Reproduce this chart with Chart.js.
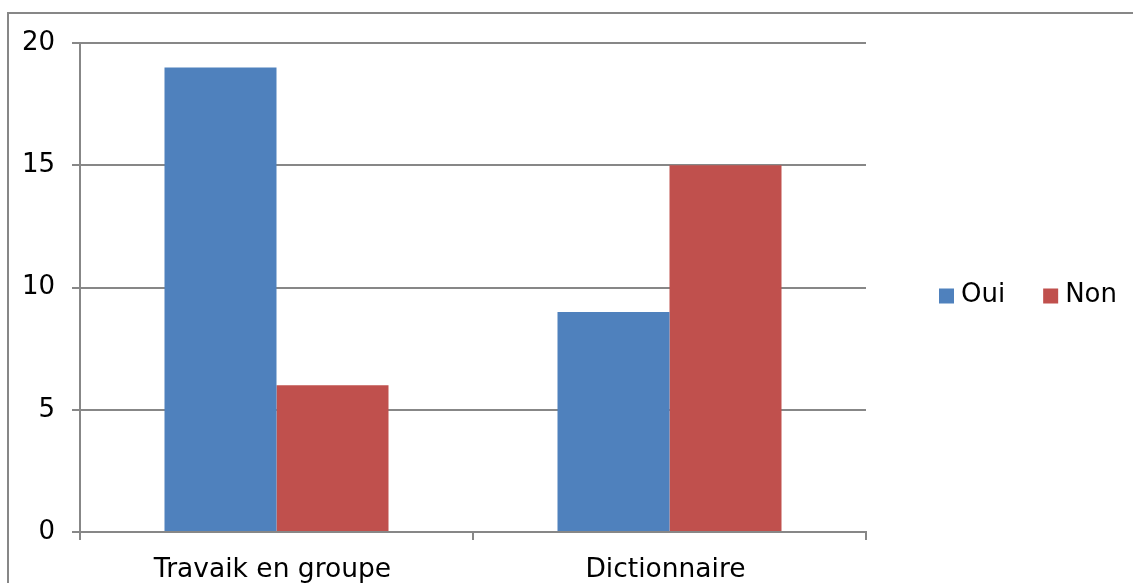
<!DOCTYPE html>
<html>
<head>
<meta charset="utf-8">
<script src="https://cdn.jsdelivr.net/npm/chart.js@4.4.0/dist/chart.umd.min.js"></script>
<style>
  html, body { margin: 0; padding: 0; background: #fff; overflow: hidden; }
  #frame {
    position: absolute; left: 7px; top: 12px;
    width: 1200px; height: 700px;
    border: 2px solid #878787;
    pointer-events: none;
  }
  canvas { position: absolute; left: 0; top: 0; }
</style>
</head>
<body>
<canvas id="chart" width="1133" height="583"></canvas>
<div id="frame"></div>
<script>
// data
const categories = ['Travaik en groupe', 'Dictionnaire'];
const oui = [19, 9];
const non = [6, 15];
const yTicks = [0, 5, 10, 15, 20];

const gridGray = '#878787';
const fontFamily = '"DejaVu Sans", Verdana, sans-serif';

// Excel style legend: one row, right of the plot
const rowLegend = {
  id: 'rowLegend',
  afterDraw(chart) {
    const ctx = chart.ctx;
    const area = chart.chartArea;
    let x = area.right + 73;
    const yMid = (area.top + area.bottom) / 2 + 8;
    ctx.save();
    ctx.font = '26px ' + fontFamily;
    ctx.textBaseline = 'middle';
    ctx.textAlign = 'left';
    chart.data.datasets.forEach(ds => {
      ctx.fillStyle = ds.backgroundColor;
      ctx.fillRect(x, yMid - 7, 15, 15);
      x += 22;
      ctx.fillStyle = '#000';
      ctx.fillText(ds.label, x, yMid);
      x += ctx.measureText(ds.label).width + 38;
    });
    ctx.restore();
  }
};

const ctx = document.getElementById('chart').getContext('2d');
new Chart(ctx, {
  type: 'bar',
  data: {
    labels: categories,
    datasets: [
      { label: 'Oui', data: oui, backgroundColor: '#4F81BD' },
      { label: 'Non', data: non, backgroundColor: '#C0504D' }
    ]
  },
  options: {
    responsive: false,
    animation: false,
    layout: { padding: { left: 0, right: 267, top: 43, bottom: 0 } },
    datasets: {
      bar: { barPercentage: 1, categoryPercentage: 0.57 }
    },
    plugins: {
      legend: { display: false },
      tooltip: { enabled: false }
    },
    scales: {
      x: {
        grid: {
          offset: true,
          drawOnChartArea: false,
          drawTicks: true,
          tickLength: 8,
          color: gridGray,
          lineWidth: 2
        },
        border: { display: true, color: gridGray, width: 2 },
        ticks: {
          color: '#000',
          font: { family: fontFamily, size: 26.5 },
          padding: 14,
          labelOffset: -4,
          maxRotation: 0
        },
        afterFit(scale) { scale.height = 51; }
      },
      y: {
        min: 0,
        max: 20,
        afterBuildTicks(scale) { scale.ticks = yTicks.map(v => ({ value: v })); },
        grid: {
          color: gridGray,
          lineWidth: 2,
          drawTicks: true,
          tickLength: 8
        },
        border: { display: true, color: gridGray, width: 2 },
        ticks: {
          color: '#000',
          font: { family: fontFamily, size: 26 },
          padding: 17
        },
        afterFit(scale) { scale.width = 80; }
      }
    }
  },
  plugins: [rowLegend]
});
</script>
</body>
</html>
